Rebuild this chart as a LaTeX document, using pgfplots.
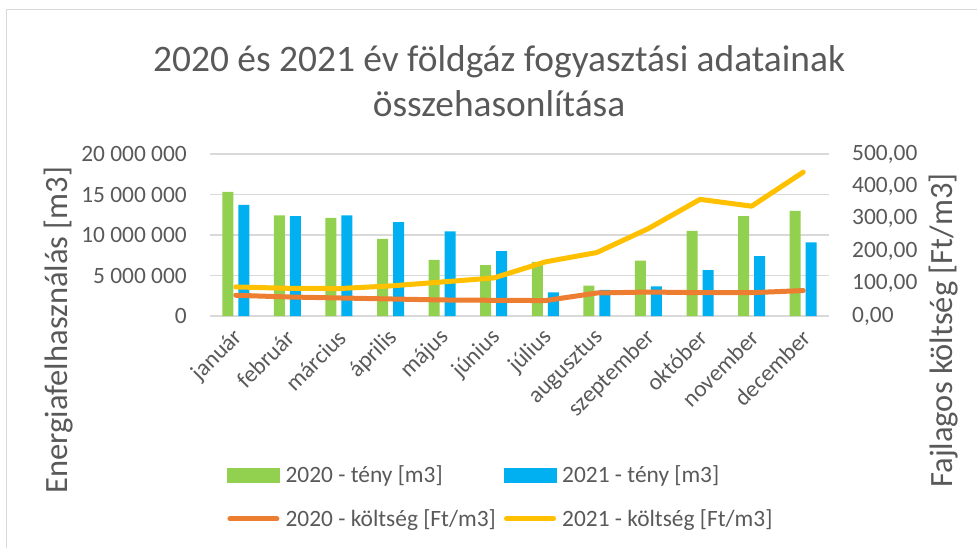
\documentclass[border=0pt]{standalone}
\usepackage{pgfplots}
\pgfplotsset{compat=1.18}
\usepackage{fontspec}
\setmainfont{Carlito}
\definecolor{cgreen}{HTML}{92D050}
\definecolor{cblue}{HTML}{00B0F0}
\definecolor{corange}{HTML}{ED7D31}
\definecolor{cyellow}{HTML}{FFC000}
\definecolor{ctext}{HTML}{595959}
\definecolor{cgrid}{HTML}{D9D9D9}
\newcommand{\fnt}{\fontsize{23.4}{28}\selectfont}
\newcommand{\lfnt}{\fontsize{32.5}{38}\selectfont}
\pgfplotsset{
  base/.style={
    scale only axis, width=619pt, height=162pt,
    at={(0pt,0pt)}, anchor=south west,
    xmin=-0.5, xmax=11.5,
    font=\fnt,
    tick style={draw=none},
    axis line style={draw=none},
    scaled y ticks=false,
    ticklabel style={text=ctext},
    label style={text=ctext, font=\lfnt},
  }
}
\begin{document}
\begin{tikzpicture}
\useasboundingbox (-210pt,-231pt) rectangle (767pt,316pt);
\draw[cgrid, line width=1pt] (-203.5pt,306.7pt) rectangle (768pt,-233pt);
\begin{axis}[base,
  ymin=0, ymax=20000000,
  ytick={0,5000000,10000000,15000000,20000000},
  yticklabels={0,5 000 000,10 000 000,15 000 000,20 000 000},
  ymajorgrids, grid style={cgrid, line width=1.3pt},
  yticklabel style={anchor=east, inner sep=0pt, xshift=-23pt},
  xtick={0,1,2,3,4,5,6,7,8,9,10,11},
  xticklabels={január,február,március,április,május,június,július,augusztus,szeptember,október,november,december},
  xticklabel style={xshift=3pt, yshift=-18pt, rotate=45, anchor=east, inner sep=0pt},
  ylabel={Energiafelhasználás [m3]},
  ylabel style={at={(axis description cs:-0.2439,-0.0864)}, anchor=center, rotate=0},
  title={2020 és 2021 év földgáz fogyasztási adatainak\\összehasonlítása},
  title style={at={(axis description cs:0.467,1.41)}, anchor=center, align=center, text=ctext, font=\fontsize{37.4}{45}\selectfont},
]
\addplot[ybar, bar width=11pt, bar shift=-8pt, fill=cgreen, draw=none, mark=none] coordinates {
(0,15340000) (1,12420000) (2,12120000) (3,9520000) (4,6930000) (5,6270000)
(6,6680000) (7,3760000) (8,6850000) (9,10510000) (10,12330000) (11,12990000)};
\addplot[ybar, bar width=11pt, bar shift=8pt, fill=cblue, draw=none, mark=none] coordinates {
(0,13730000) (1,12330000) (2,12420000) (3,11590000) (4,10440000) (5,8000000)
(6,2930000) (7,3220000) (8,3670000) (9,5650000) (10,7380000) (11,9080000)};
\end{axis}
\begin{axis}[base,
  ymin=0, ymax=500,
  ytick={0,100,200,300,400,500},
  yticklabels={{0,00},{100,00},{200,00},{300,00},{400,00},{500,00}},
  yticklabel pos=right,
  yticklabel style={anchor=west, inner sep=0pt, xshift=23pt},
  xtick=\empty,
  ylabel={Fajlagos költség [Ft/m3]},
  ylabel style={at={(axis description cs:1.185,-0.0895)}, anchor=center, rotate=0},
  legend columns=2,
  legend style={at={(axis description cs:0.02746,-1.13)}, anchor=west,
    draw=none, fill=none, inner sep=0pt, font=\fnt, text=ctext,
    row sep=21.5pt,
    nodes={inner sep=0pt, text height=17pt, text depth=6pt, anchor=base west},
    /tikz/every odd column/.append style={column sep=6pt},
    /tikz/every even column/.append style={column sep=8pt}},
  legend cell align=left,
]
\addlegendimage{legend image code/.code={\path[draw=none,fill=none] (0pt,-6pt) rectangle (52pt,17pt); \fill[cgreen] (0pt,0pt) rectangle (52pt,13.7pt);}}
\addlegendentry{2020 - tény [m3]}
\addlegendimage{legend image code/.code={\path[draw=none,fill=none] (0pt,-6pt) rectangle (52pt,17pt); \fill[cblue] (0pt,0pt) rectangle (52pt,13.7pt);}}
\addlegendentry{2021 - tény [m3]}
\addplot[corange, line width=5pt, line cap=round, line join=round, mark=none,
  legend image code/.code={\path[draw=none,fill=none] (0pt,-6pt) rectangle (52pt,17pt); \draw[corange, line width=5pt, line cap=round] (2.5pt,8pt) -- (49.5pt,8pt);}] coordinates {
(0,64) (1,58.8) (2,55.7) (3,52.6) (4,49.5) (5,48.5) (6,47.6) (7,71) (8,74) (9,72) (10,72) (11,78.5)};
\addlegendentry{2020 - költség [Ft/m3]}
\addplot[cyellow, line width=5pt, line cap=round, line join=round, mark=none,
  legend image code/.code={\path[draw=none,fill=none] (0pt,-6pt) rectangle (52pt,17pt); \draw[cyellow, line width=5pt, line cap=round] (2.5pt,8pt) -- (49.5pt,8pt);}] coordinates {
(0,89.7) (1,85.6) (2,84.7) (3,92.8) (4,105) (5,117.5) (6,167) (7,196) (8,270) (9,360) (10,339) (11,444)};
\addlegendentry{2021 - költség [Ft/m3]}
\end{axis}
\end{tikzpicture}
\end{document}
